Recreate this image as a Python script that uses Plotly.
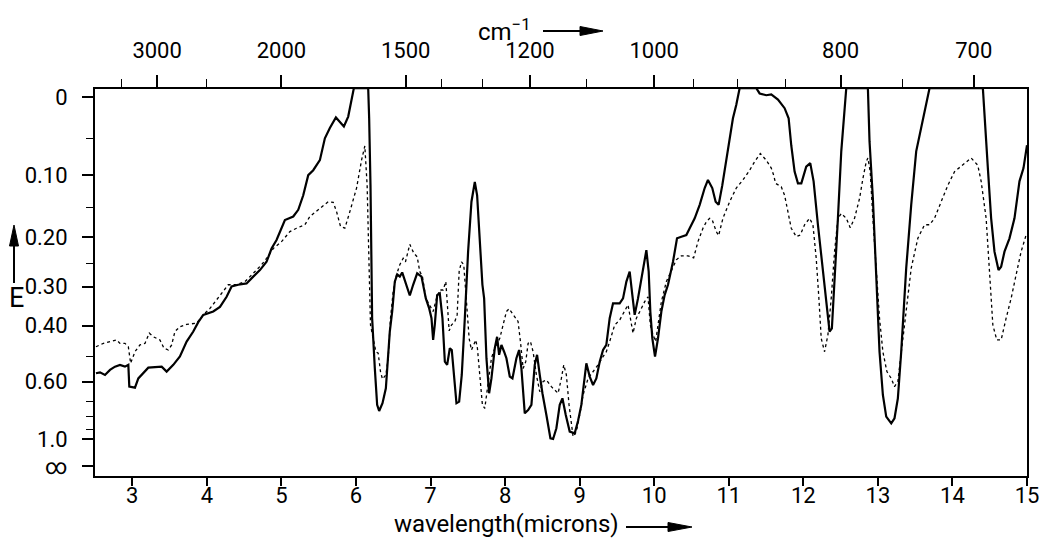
import plotly.graph_objects as go

# ---------------- data ----------------
wl_solid = [2.513, 2.567, 2.634, 2.701, 2.768, 2.835, 2.902, 2.947, 2.960, 3.036, 3.081, 3.215, 3.394, 3.461,
            3.550, 3.639, 3.729, 3.818, 3.885, 3.952, 4.086, 4.176, 4.265, 4.332, 4.421, 4.533, 4.622, 4.712,
            4.801, 4.868, 4.935, 5.002, 5.047, 5.159, 5.226, 5.293, 5.360, 5.427, 5.516, 5.583, 5.650, 5.731,
            5.784, 5.838, 5.896, 5.941, 5.972,
            6.164, 6.177, 6.195, 6.217, 6.253, 6.284, 6.311, 6.356, 6.401, 6.432, 6.454, 6.486, 6.521, 6.553,
            6.588, 6.620, 6.678, 6.722, 6.767, 6.821, 6.879, 6.937, 6.982, 7.013, 7.035, 7.057, 7.089, 7.124,
            7.160, 7.192, 7.223, 7.259, 7.285, 7.312, 7.348, 7.384, 7.419, 7.460, 7.504, 7.549, 7.594, 7.625,
            7.661, 7.696, 7.719, 7.750, 7.786, 7.817, 7.862, 7.893, 7.920, 7.951, 7.987, 8.018, 8.063, 8.099,
            8.152, 8.188, 8.219, 8.264, 8.309, 8.353, 8.398, 8.429, 8.465, 8.501, 8.554, 8.608, 8.644, 8.688,
            8.733, 8.769, 8.814, 8.867, 8.934,
            8.979, 9.023, 9.055, 9.090, 9.135, 9.180, 9.224, 9.269, 9.314, 9.358, 9.403, 9.448, 9.537, 9.582,
            9.627, 9.671, 9.707, 9.738, 9.783, 9.828, 9.859, 9.895, 9.926, 9.948, 9.975, 10.011, 10.051, 10.096,
            10.140, 10.185, 10.252, 10.306, 10.364, 10.431, 10.476, 10.543, 10.610, 10.677, 10.721, 10.779,
            10.824, 10.864, 10.913, 10.967, 11.012, 11.056, 11.101, 11.146, 11.369, 11.414, 11.503, 11.570,
            11.660, 11.749, 11.803, 11.838, 11.883, 11.928, 11.973, 12.017,
            12.039, 12.093, 12.138, 12.196, 12.263, 12.316, 12.352, 12.383, 12.419, 12.464, 12.509, 12.553,
            12.576, 12.866, 12.888, 12.933, 12.978, 13.022, 13.067, 13.112, 13.179, 13.223, 13.268, 13.313,
            13.380, 13.447, 13.514, 13.581, 13.648, 13.693, 14.408, 14.430, 14.475, 14.519, 14.564, 14.618,
            14.653, 14.698, 14.765, 14.832, 14.899, 14.953, 15.0]
E_solid = [0.564, 0.560, 0.571, 0.550, 0.537, 0.530, 0.537, 0.530, 0.624, 0.629, 0.586, 0.541, 0.537, 0.557,
           0.530, 0.499, 0.448, 0.417, 0.390, 0.370, 0.361, 0.349, 0.324, 0.300, 0.296, 0.293, 0.278, 0.264,
           0.247, 0.221, 0.205, 0.184, 0.170, 0.164, 0.153, 0.130, 0.100, 0.093, 0.079, 0.050, 0.037, 0.024,
           0.030, 0.035, 0.023, 0.005, -0.010,
           -0.010, 0.025, 0.115, 0.379, 0.544, 0.722, 0.760, 0.712, 0.632, 0.482, 0.417, 0.361, 0.289, 0.273,
           0.278, 0.269, 0.296, 0.321, 0.296, 0.271, 0.278, 0.328, 0.353, 0.379, 0.443, 0.398, 0.320, 0.316,
           0.379, 0.518, 0.530, 0.470, 0.476, 0.571, 0.712, 0.703, 0.571, 0.379, 0.227, 0.140, 0.110, 0.130,
           0.214, 0.296, 0.328, 0.505, 0.657, 0.586, 0.470, 0.433, 0.493, 0.459, 0.482, 0.505, 0.578, 0.586,
           0.505, 0.476, 0.544, 0.776, 0.754, 0.722, 0.530, 0.493, 0.571, 0.657, 0.787, 0.992, 1.000, 0.892,
           0.722, 0.684, 0.787, 0.923, 0.940,
           0.830, 0.722, 0.600, 0.524, 0.578, 0.616, 0.586, 0.518, 0.476, 0.459, 0.379, 0.340, 0.340, 0.328,
           0.289, 0.267, 0.320, 0.370, 0.328, 0.282, 0.247, 0.224, 0.267, 0.361, 0.438, 0.499, 0.438, 0.361,
           0.320, 0.296, 0.247, 0.202, 0.199, 0.196, 0.184, 0.167, 0.145, 0.119, 0.107, 0.119,
           0.140, 0.145, 0.115, 0.081, 0.054, 0.025, 0.009, -0.010, -0.010, -0.004, -0.002, -0.003,
           0.003, 0.013, 0.025, 0.059, 0.095, 0.112, 0.112, 0.095,
           0.088, 0.083, 0.109, 0.178, 0.267, 0.361, 0.417, 0.408, 0.296, 0.167, 0.067, 0.009,
           -0.010, -0.010, 0.054, 0.135, 0.296, 0.482, 0.666, 0.799, 0.850, 0.811, 0.684, 0.482,
           0.260, 0.145, 0.067, 0.037, 0.005, -0.010, -0.010, 0.017, 0.090, 0.167, 0.227, 0.264,
           0.257, 0.227, 0.202, 0.167, 0.109, 0.090, 0.059]

wl_dotted = [2.513, 2.612, 2.701, 2.790, 2.835, 2.902, 2.947, 2.978, 3.036, 3.103, 3.170, 3.228, 3.282, 3.371,
             3.425, 3.483, 3.528, 3.572, 3.639, 3.729, 3.863, 3.952, 4.042, 4.109, 4.198, 4.287, 4.399, 4.511,
             4.578, 4.667, 4.734, 4.801, 4.891, 5.002, 5.114, 5.203, 5.315, 5.382, 5.471, 5.561, 5.628, 5.695,
             5.740, 5.793, 5.851, 5.918, 6.008, 6.075, 6.119,
             6.150, 6.173, 6.195, 6.231, 6.267, 6.298, 6.329, 6.356, 6.401, 6.432, 6.463, 6.499, 6.544, 6.588,
             6.633, 6.664, 6.722, 6.776, 6.821, 6.856, 6.892, 6.937, 6.982, 7.035, 7.080, 7.124, 7.169, 7.205,
             7.250, 7.281, 7.326, 7.357, 7.384, 7.415, 7.446, 7.482, 7.518, 7.549, 7.580, 7.607, 7.629, 7.661,
             7.696, 7.728, 7.772, 7.817, 7.862, 7.929, 7.973, 8.018, 8.054, 8.107, 8.174, 8.206, 8.242, 8.277,
             8.309, 8.340, 8.376, 8.420, 8.465, 8.510, 8.554, 8.621, 8.711, 8.755, 8.787, 8.822, 8.858,
             8.912, 8.956, 9.001, 9.046, 9.113, 9.180, 9.247, 9.314, 9.358, 9.403, 9.470, 9.537, 9.604, 9.649,
             9.716, 9.761, 9.828, 9.872, 9.917, 9.948, 9.984, 10.020, 10.051, 10.096, 10.163, 10.230, 10.297,
             10.364, 10.453, 10.529, 10.587, 10.654, 10.699, 10.744, 10.779, 10.833, 10.864, 10.922, 11.012,
             11.101, 11.190, 11.280, 11.347, 11.423, 11.503, 11.570, 11.602, 11.628, 11.704, 11.749, 11.794,
             11.838, 11.905, 11.959,
             12.017, 12.084, 12.129, 12.173, 12.209, 12.240, 12.285, 12.330, 12.374, 12.419, 12.464, 12.509,
             12.576, 12.629, 12.687, 12.754, 12.799, 12.844, 12.866, 12.897, 12.933, 12.978, 13.022, 13.067,
             13.121, 13.179, 13.223, 13.268, 13.313, 13.380, 13.447, 13.536, 13.626, 13.693, 13.760, 13.849,
             13.938, 14.028, 14.139, 14.251, 14.340, 14.385, 14.452, 14.497, 14.542, 14.595, 14.653, 14.720,
             14.787, 14.854, 14.921, 14.988]
E_dotted = [0.465, 0.454, 0.448, 0.443, 0.454, 0.454, 0.465, 0.524, 0.482, 0.459, 0.454, 0.422, 0.433, 0.443,
            0.470, 0.476, 0.459, 0.417, 0.403, 0.396, 0.393, 0.370, 0.353, 0.336, 0.316, 0.296, 0.296, 0.289,
            0.278, 0.264, 0.253, 0.240, 0.221, 0.208, 0.190, 0.184, 0.178, 0.164, 0.155, 0.145, 0.140, 0.141,
            0.156, 0.181, 0.184, 0.156, 0.119, 0.079, 0.060,
            0.115, 0.227, 0.398, 0.438, 0.482, 0.487, 0.557, 0.589, 0.571, 0.505, 0.379, 0.312, 0.274, 0.253,
            0.240, 0.247, 0.213, 0.230, 0.237, 0.267, 0.278, 0.328, 0.344, 0.361, 0.328, 0.308, 0.308, 0.289,
            0.415, 0.398, 0.388, 0.370, 0.267, 0.247, 0.253, 0.328, 0.438, 0.476, 0.459, 0.443, 0.470, 0.571,
            0.722, 0.743, 0.616, 0.505, 0.470, 0.438, 0.398, 0.361, 0.354, 0.370, 0.388, 0.448, 0.544, 0.518,
            0.454, 0.448, 0.482, 0.571, 0.649, 0.600, 0.593, 0.624, 0.657, 0.586, 0.530, 0.571, 0.722,
            0.974, 0.923, 0.787, 0.666, 0.586, 0.557, 0.530, 0.499, 0.482, 0.448, 0.398, 0.384, 0.361, 0.344,
            0.422, 0.379, 0.353, 0.336, 0.324, 0.398, 0.427, 0.448, 0.398, 0.336, 0.289, 0.267, 0.243,
            0.235, 0.235, 0.239, 0.208, 0.184, 0.173, 0.167, 0.170, 0.190, 0.197, 0.167, 0.140,
            0.119, 0.107, 0.093, 0.081, 0.070, 0.079, 0.090, 0.100, 0.112, 0.117, 0.130, 0.156,
            0.184, 0.199, 0.196,
            0.178, 0.167, 0.178, 0.240, 0.328, 0.438, 0.482, 0.427, 0.328, 0.227, 0.167, 0.159,
            0.167, 0.183, 0.167, 0.135, 0.105, 0.081, 0.076, 0.095, 0.167, 0.274, 0.379, 0.482,
            0.557, 0.586, 0.624, 0.600, 0.482, 0.353, 0.260, 0.202, 0.178, 0.178, 0.167, 0.140,
            0.115, 0.095, 0.086, 0.076, 0.086, 0.109, 0.167, 0.260, 0.398, 0.443, 0.443, 0.379,
            0.328, 0.274, 0.227, 0.196]

wavelength_ticks = [3, 4, 5, 6, 7, 8, 9, 10, 11, 12, 13, 14, 15]
wavenumber_major = [3000, 2000, 1500, 1200, 1000, 800, 700]
wavenumber_minor = [3500, 2500, 1400, 1300, 1100, 950, 900, 850, 750]
E_major = [0, 0.10, 0.20, 0.30, 0.40, 0.60, 1.0]
E_major_text = ["0", "0.10", "0.20", "0.30", "0.40", "0.60", "1.0"]
E_minor = [0.05, 0.15, 0.25, 0.5, 0.7, 0.8, 0.9]
E_inf_label_pos = 1.55   # where the "∞" label sits on the scale

# ---------------- helpers ----------------
def to_T(E):
    # the ordinate is linear in transmittance, labelled in extinction E = -log10(T)
    return 10 ** (-E)

W, H = 1040, 555
PLOT_L, PLOT_R, PLOT_T, PLOT_B = 95, 1027, 89, 476   # plot box in page pixels
L, T_, R, B = PLOT_L, PLOT_T, W - PLOT_R, H - PLOT_B
PW, PH = PLOT_R - PLOT_L, PLOT_B - PLOT_T

def px(x):
    return (x - PLOT_L) / PW

def py(y):
    return (PLOT_B - y) / PH

FONT = "Roboto"
tickfont = dict(family=FONT, size=22, color="black")

fig = go.Figure()
fig.add_trace(go.Scatter(x=wl_solid, y=[to_T(e) for e in E_solid], mode="lines",
                         line=dict(color="black", width=2.2), xaxis="x", yaxis="y",
                         showlegend=False, hoverinfo="skip"))
fig.add_trace(go.Scatter(x=wl_dotted, y=[to_T(e) for e in E_dotted], mode="lines",
                         line=dict(color="black", width=1.3, dash="dot"), xaxis="x2", yaxis="y",
                         showlegend=False, hoverinfo="skip"))

yt_vals = [to_T(e) for e in E_major] + [to_T(E_inf_label_pos)]
yt_text = E_major_text + ["∞"]

fig.update_layout(
    width=W, height=H,
    margin=dict(l=L, r=R, t=T_, b=B, pad=0, autoexpand=False),
    paper_bgcolor="white", plot_bgcolor="white",
    showlegend=False,
    xaxis=dict(range=[2.5, 15], tickmode="array", tickvals=wavelength_ticks,
               ticktext=[str(v) for v in wavelength_ticks],
               ticks="outside", ticklen=8, tickwidth=1.5, tickcolor="black",
               showline=True, linewidth=2, linecolor="black", mirror=False,
               showgrid=False, zeroline=False, tickfont=tickfont, ticklabelstandoff=-9,
               ticklabeloverflow="allow"),
    xaxis2=dict(range=[2.5, 15], overlaying="x", side="top", anchor="y", tickmode="array",
                tickvals=[10000 / w for w in wavenumber_major],
                ticktext=[str(w) for w in wavenumber_major],
                ticks="outside", ticklen=12, tickwidth=1.5, tickcolor="black",
                minor=dict(tickmode="array", tickvals=[10000 / w for w in wavenumber_minor],
                           ticks="outside", ticklen=8, tickwidth=1.2, tickcolor="black"),
                showline=True, linewidth=2, linecolor="black",
                showgrid=False, zeroline=False, tickfont=tickfont, ticklabelstandoff=8,
                ticklabeloverflow="allow"),
    yaxis=dict(range=[0.0026, 1.021], tickmode="array",
               tickvals=yt_vals, ticktext=yt_text,
               ticks="outside", ticklen=11, tickwidth=1.5, tickcolor="black",
               minor=dict(tickmode="array", tickvals=[to_T(e) for e in E_minor],
                          ticks="outside", ticklen=7, tickwidth=1.2, tickcolor="black"),
               showline=True, linewidth=2, linecolor="black", mirror=True,
               showgrid=False, zeroline=False, tickfont=tickfont, ticklabelstandoff=10),
)

shapes = []
annotations = []

# left: E with upward arrow
annotations.append(dict(xref="paper", yref="paper", x=px(16), y=py(298), text="E", showarrow=False,
                        font=dict(family=FONT, size=27, color="black"), xanchor="center", yanchor="middle"))
shapes.append(dict(type="line", xref="paper", yref="paper", x0=px(14), x1=px(14), y0=py(283), y1=py(242),
                   line=dict(color="black", width=2)))
shapes.append(dict(type="path", xref="paper", yref="paper",
                   path=f"M {px(14)},{py(225)} L {px(9.5)},{py(246)} L {px(18.5)},{py(246)} Z",
                   fillcolor="black", line=dict(color="black", width=1)))

# top: cm^-1 with right arrow
annotations.append(dict(xref="paper", yref="paper", x=px(476), y=py(30), text="cm<sup>−1</sup>",
                        showarrow=False, font=dict(family=FONT, size=24, color="black"),
                        xanchor="left", yanchor="middle"))
shapes.append(dict(type="line", xref="paper", yref="paper", x0=px(543), x1=px(584), y0=py(31), y1=py(31),
                   line=dict(color="black", width=2)))
shapes.append(dict(type="path", xref="paper", yref="paper",
                   path=f"M {px(603)},{py(31)} L {px(580)},{py(26.5)} L {px(580)},{py(35.5)} Z",
                   fillcolor="black", line=dict(color="black", width=1)))

# bottom: wavelength(microns) with right arrow
annotations.append(dict(xref="paper", yref="paper", x=px(392), y=py(524), text="wavelength(microns)",
                        showarrow=False, font=dict(family=FONT, size=24, color="black"),
                        xanchor="left", yanchor="middle"))
shapes.append(dict(type="line", xref="paper", yref="paper", x0=px(626), x1=px(672), y0=py(527), y1=py(527),
                   line=dict(color="black", width=2)))
shapes.append(dict(type="path", xref="paper", yref="paper",
                   path=f"M {px(692)},{py(527)} L {px(668)},{py(522.5)} L {px(668)},{py(531.5)} Z",
                   fillcolor="black", line=dict(color="black", width=1)))

fig.update_layout(shapes=shapes, annotations=annotations)

# remove the default page margin so the figure fills the 1040x555 window exactly
fig.write_html("out.html",
               config={"displayModeBar": False},
               post_script="document.body.style.margin='0px';document.body.style.overflow='hidden';")
